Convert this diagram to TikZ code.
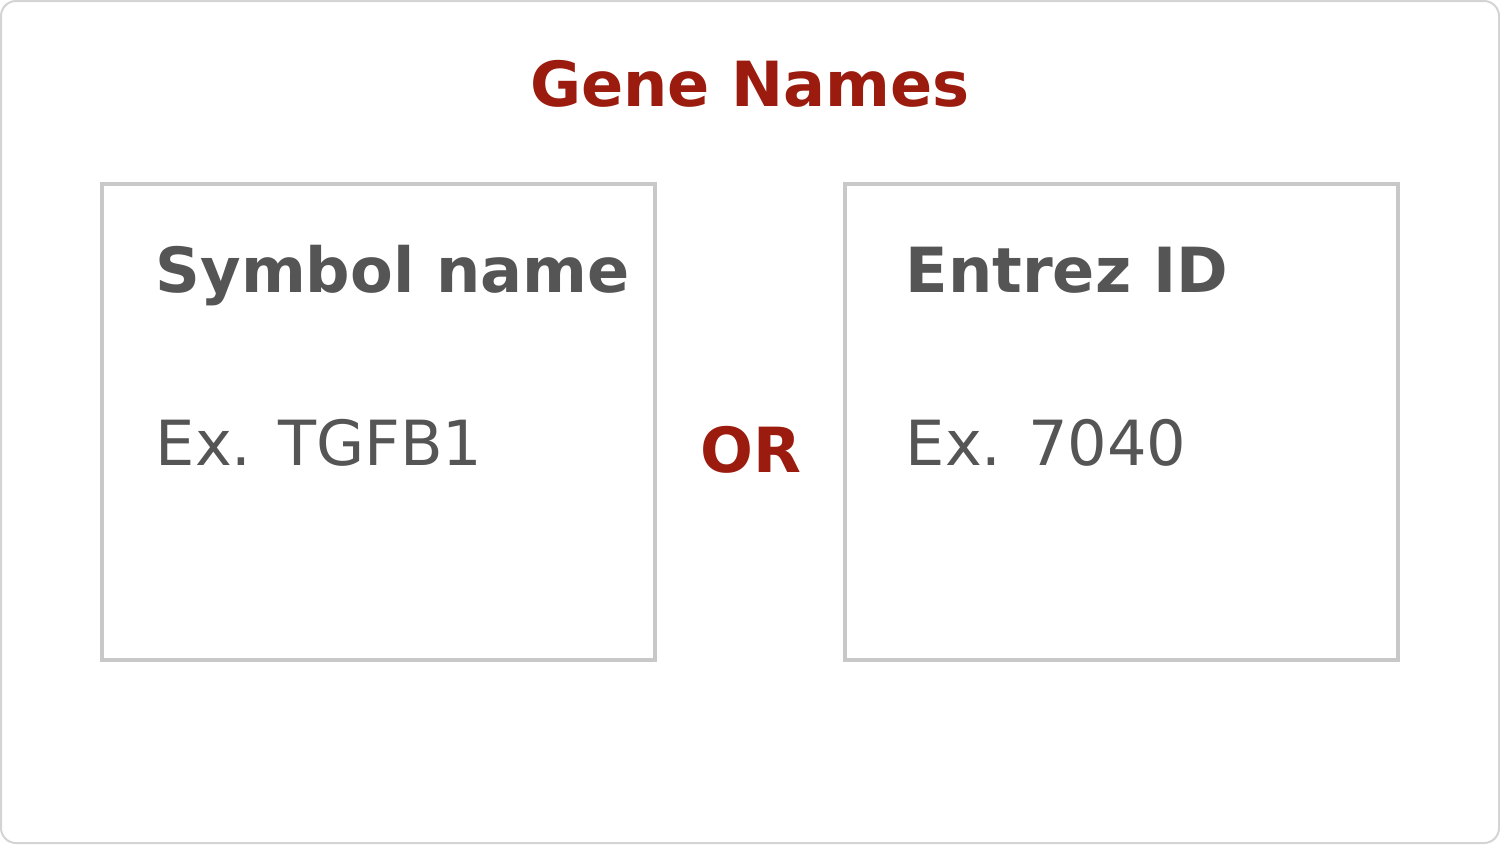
\documentclass[tikz,border=0pt]{standalone}
\usepackage{fontspec}
\setmainfont{DejaVu Sans}
\usepackage{tikz}
\definecolor{genered}{HTML}{9B1B0E}
\definecolor{textgray}{HTML}{555555}
\definecolor{boxgray}{HTML}{C8C8C8}
\definecolor{framegray}{HTML}{D4D4D4}

\begin{document}
\begin{tikzpicture}[x=0.01cm,y=-0.01cm,
  boxframe/.style={draw=boxgray,line width=0.035cm},
  heading/.style={anchor=base west,inner sep=0,font=\fontsize{17.7}{22}\selectfont\bfseries,text=textgray},
  example/.style={anchor=base west,inner sep=0,font=\fontsize{17.7}{22}\selectfont,text=textgray}]
\useasboundingbox (0,0) rectangle (1500,844);
\draw[framegray,line width=0.02cm,rounded corners=0.15cm] (1,1) rectangle (1499,843);
\node[anchor=base,inner sep=0,font=\fontsize{17.7}{22}\selectfont\bfseries,text=genered] (title) at (750,106) {Gene Names};
\draw[boxframe] (102,184) rectangle (655,660);
\draw[boxframe] (845,184) rectangle (1398,660);
\node[heading] (symbol) at (155,292) {Symbol name};
\node[example] (tgfb) at (155,465) {Ex. TGFB1};
\node[heading] (entrez) at (905,292) {Entrez ID};
\node[example] (number) at (905,465) {Ex. 7040};
\node[anchor=base,inner sep=0,font=\fontsize{17.7}{22}\selectfont\bfseries,text=genered] (or) at (751,472) {OR};
\end{tikzpicture}
\end{document}
